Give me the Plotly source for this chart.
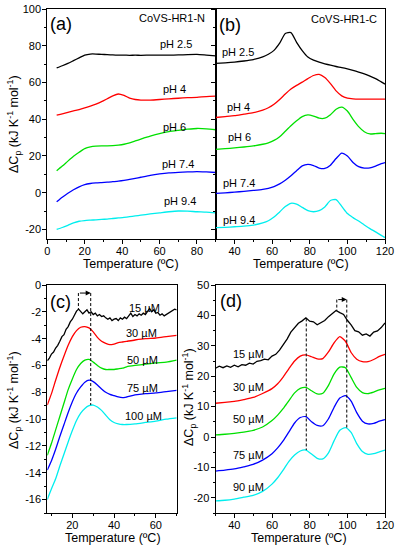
import plotly.graph_objects as go

# ---------------- data ----------------
# Panel (a): CoVS-HR1-N, pH series
T_a = [5, 8, 11, 14, 17, 20, 23, 26, 29, 32, 35, 38, 41, 44, 47, 50, 55, 60, 65, 70, 75, 80, 85, 90]
a_ph25 = [68.0, 69.2, 70.5, 72.0, 73.5, 75.0, 75.6, 75.6, 75.4, 75.3, 75.1, 75.0, 75.0, 74.9, 75.0, 74.9, 75.0, 75.0, 75.0, 75.1, 75.3, 75.4, 75.0, 74.6]
a_ph4 = [42.3, 43.0, 43.8, 44.6, 45.3, 46.2, 47.2, 48.3, 49.6, 51.2, 52.8, 53.8, 53.0, 51.6, 50.8, 50.5, 50.5, 50.8, 51.2, 51.5, 51.8, 52.0, 52.4, 52.6]
a_ph6 = [12.0, 14.5, 17.2, 19.8, 22.0, 24.0, 25.0, 25.4, 25.5, 25.5, 25.6, 25.9, 26.4, 27.2, 28.2, 29.2, 30.8, 32.2, 33.3, 34.0, 34.6, 35.0, 34.8, 34.3]
a_ph74 = [-5.0, -2.5, -0.3, 1.6, 3.2, 4.4, 5.0, 5.3, 5.5, 5.7, 6.0, 6.3, 6.7, 7.2, 7.8, 8.4, 9.4, 10.2, 10.8, 11.1, 11.3, 11.5, 11.3, 11.0]
a_ph94 = [-20.0, -19.0, -17.8, -16.5, -15.6, -15.2, -15.0, -14.8, -14.6, -14.4, -14.1, -13.8, -13.5, -13.1, -12.7, -12.3, -11.6, -11.0, -10.4, -10.0, -10.1, -10.4, -10.6, -11.0]

# Panel (b): CoVS-HR1-C, pH series
T_b = [30, 35, 40, 45, 50, 55, 58, 61, 64, 67, 70, 73, 76, 79, 82, 85, 88, 91, 94, 97, 100, 103, 106, 109, 112, 115, 118, 120]
b_ph25 = [70.5, 70.8, 71.2, 71.8, 72.6, 74.0, 75.5, 77.6, 81.5, 86.8, 87.3, 82.0, 77.5, 74.0, 72.3, 71.2, 70.3, 69.5, 68.8, 68.2, 67.5, 66.7, 65.8, 64.8, 63.6, 62.2, 60.4, 59.2]
b_ph4 = [41.0, 41.5, 42.0, 42.8, 43.6, 45.0, 46.3, 48.2, 50.8, 53.8, 56.5, 58.5, 60.3, 62.2, 63.9, 64.5, 62.8, 59.5, 55.5, 52.8, 51.6, 51.2, 51.0, 51.0, 51.0, 51.0, 51.0, 51.0]
b_ph6 = [23.6, 24.0, 24.4, 24.9, 25.5, 26.4, 27.2, 28.5, 30.5, 33.5, 36.5, 39.2, 41.5, 42.4, 41.8, 40.6, 40.6, 42.5, 45.5, 46.6, 44.5, 40.0, 36.0, 33.2, 32.0, 32.2, 32.4, 32.2]
b_ph74 = [-0.4, -0.1, 0.3, 0.7, 1.2, 1.8, 2.4, 3.3, 4.8, 6.8, 9.2, 12.0, 14.6, 15.4, 14.8, 13.4, 13.2, 15.0, 18.6, 21.6, 20.0, 16.5, 14.2, 13.4, 13.5, 14.5, 15.8, 16.4]
b_ph94 = [-19.1, -18.9, -18.6, -18.3, -17.7, -16.5, -15.3, -13.3, -10.5, -7.6, -5.8, -6.3, -8.0, -9.8, -10.4, -9.8, -7.8, -4.3, -3.8, -7.5, -11.4, -13.6, -15.5, -17.6, -19.6, -21.4, -23.3, -24.5]

# Panel (c): CoVS-HR1-N, concentration series
T_c_15 = list(range(8, 71))
c_15 = [-5.65, -5.45, -5.15, -5.0, -4.7, -4.5, -4.2, -3.85, -3.7, -3.3, -3.1, -2.75, -2.55, -2.2, -1.95, -1.8,
        -1.95, -2.15, -2.0, -1.85, -2.1, -2.0, -2.2, -2.1, -2.3, -2.2, -2.35, -2.3, -2.45, -2.55, -2.45, -2.65,
        -2.55, -2.5, -2.65, -2.45, -2.55, -2.4, -2.5, -2.3, -2.1, -2.35, -2.2, -2.3, -2.15, -2.25, -2.1, -2.2,
        -2.0, -1.75, -2.0, -1.85, -2.1, -2.05, -2.25, -2.15, -2.3, -2.2, -2.1, -2.05, -1.95, -1.8, -1.85]
T_c = [8, 10, 12, 14, 16, 18, 20, 22, 24, 26, 28, 30, 32, 34, 36, 38, 40, 42, 44, 46, 50, 55, 60, 65, 70]
c_30 = [-8.95, -8.1, -7.1, -6.15, -5.3, -4.5, -3.85, -3.4, -3.15, -3.1, -3.2, -3.5, -3.9, -4.2, -4.35, -4.45, -4.4, -4.3, -4.25, -4.2, -4.1, -4.0, -3.95, -3.85, -3.75]
c_50 = [-12.7, -11.8, -10.8, -9.8, -8.8, -7.8, -7.0, -6.3, -5.85, -5.6, -5.55, -5.75, -6.0, -6.2, -6.3, -6.3, -6.3, -6.25, -6.2, -6.1, -6.0, -5.9, -5.8, -5.75, -5.6]
c_75 = [-13.8, -13.1, -12.25, -11.3, -10.4, -9.5, -8.7, -8.05, -7.6, -7.25, -7.1, -7.2, -7.45, -7.75, -8.0, -8.15, -8.25, -8.35, -8.4, -8.35, -8.2, -8.1, -8.05, -7.95, -7.85]
c_100 = [-16.0, -15.2, -14.45, -13.5, -12.6, -11.7, -10.85, -10.1, -9.55, -9.2, -9.0, -8.95, -9.1, -9.35, -9.7, -10.05, -10.25, -10.35, -10.4, -10.4, -10.35, -10.25, -10.15, -10.0, -9.9]

# Panel (d): CoVS-HR1-C, concentration series
T_d_15 = list(range(30, 121, 2))
d_15 = [22.6, 23.3, 22.8, 23.4, 22.9, 23.6, 23.1, 23.8, 23.6, 24.3, 24.0, 24.9, 25.1, 25.6, 25.4, 26.6,
        27.2, 28.6, 30.4, 32.2, 34.5, 35.9, 37.4, 38.2, 39.2, 38.1, 37.9, 36.9, 37.6, 38.3, 39.6, 40.5,
        41.6, 40.9, 40.3, 38.4, 36.9, 35.0, 34.6, 33.5, 33.9, 33.2, 34.5, 34.9, 36.0, 37.5]
T_d = [30, 35, 40, 45, 50, 55, 60, 63, 66, 69, 72, 75, 78, 81, 84, 87, 90, 93, 96, 99, 102, 105, 108, 111, 114, 117, 120]
d_30 = [11.1, 11.4, 11.7, 12.3, 13.0, 14.3, 15.9, 17.5, 19.8, 22.5, 25.0, 26.6, 27.0, 26.4, 25.7, 25.8, 28.0, 31.0, 33.0, 31.5, 27.8, 25.6, 24.8, 24.8, 25.5, 26.5, 27.2]
d_50 = [0.7, 0.9, 1.2, 1.6, 2.2, 3.3, 5.4, 7.2, 9.4, 12.0, 14.5, 16.0, 16.3, 15.2, 14.2, 14.4, 17.0, 20.8, 23.0, 22.8, 19.6, 16.3, 14.6, 14.3, 14.8, 15.5, 16.0]
d_75 = [-11.2, -10.9, -10.5, -9.8, -9.0, -7.6, -5.5, -3.6, -1.2, 1.7, 4.6, 6.4, 6.7, 5.0, 3.8, 3.7, 6.0, 9.8, 12.8, 13.6, 11.8, 8.0, 5.2, 4.3, 4.5, 5.2, 5.7]
d_90 = [-21.0, -20.8, -20.4, -19.8, -19.2, -17.9, -15.5, -13.4, -10.8, -8.0, -5.9, -4.6, -4.3, -5.6, -7.0, -7.2, -5.2, -1.2, 2.2, 3.1, 1.5, -2.2, -4.8, -5.7, -5.5, -4.9, -4.3]

# labels
ph_labels = ["pH 2.5", "pH 4", "pH 6", "pH 7.4", "pH 9.4"]
c_labels = ["15 \u00b5M", "30 \u00b5M", "50 \u00b5M", "75 \u00b5M", "100 \u00b5M"]
d_labels = ["15 \u00b5M", "30 \u00b5M", "50 \u00b5M", "75 \u00b5M", "90 \u00b5M"]

# peak markers (dashed guides)
c_peak_low, c_peak_high, c_arrow_y = 22.9, 28.8, -0.6
c_peak_low_v, c_peak_high_v = -1.8, -8.95
d_peak1, d_peak2a, d_peak2b, d_arrow_y = 78.2, 94.4, 99.7, 45.2
d_peak1_top, d_peak1_bot, d_peak2a_bot, d_peak2b_bot = 39.0, -4.3, 41.5, 3.1

COLORS = ["#000000", "#ff0000", "#00e000", "#0000ff", "#00eeee"]
FONT = "Liberation Sans, Arial, sans-serif"

fig = go.Figure()

def add(x, y, color, xa, ya, spline=True):
    fig.add_trace(go.Scatter(x=x, y=y, mode="lines", xaxis=xa, yaxis=ya,
                             line=dict(color=color, width=1.3,
                                       shape="spline" if spline else "linear",
                                       smoothing=0.6 if spline else None),
                             showlegend=False, hoverinfo="skip"))

for s, c in zip([a_ph25, a_ph4, a_ph6, a_ph74, a_ph94], COLORS):
    add(T_a, s, c, "x", "y")
for s, c in zip([b_ph25, b_ph4, b_ph6, b_ph74, b_ph94], COLORS):
    add(T_b, s, c, "x2", "y2")
add(T_c_15, c_15, COLORS[0], "x3", "y3", spline=False)
for s, c in zip([c_30, c_50, c_75, c_100], COLORS[1:]):
    add(T_c, s, c, "x3", "y3")
add(T_d_15, d_15, COLORS[0], "x4", "y4", spline=False)
for s, c in zip([d_30, d_50, d_75, d_90], COLORS[1:]):
    add(T_d, s, c, "x4", "y4")

W, H = 396, 550

def dom_x(p0, p1):
    return [p0 / W, p1 / W]

def dom_y(p_top, p_bot):
    return [1 - p_bot / H, 1 - p_top / H]

def axis(dom, rng, dtick, mdtick, anchor, tickvals=None, labels=True, standoff=-2):
    d = dict(domain=dom, range=rng, anchor=anchor, showline=True, linecolor="black",
             linewidth=1, mirror=True, ticks="outside", ticklen=4, tickwidth=1,
             tickcolor="black", showgrid=False, zeroline=False, automargin=False,
             ticklabeloverflow="allow", ticklabelstandoff=standoff,
             tickfont=dict(family=FONT, size=11, color="black"),
             minor=dict(ticks="outside", ticklen=2, tickcolor="black", dtick=mdtick, tick0=0),
             showticklabels=labels)
    if tickvals is not None:
        d.update(tickmode="array", tickvals=tickvals,
                 ticktext=[("%g" % v) for v in tickvals])
    else:
        d.update(tick0=0, dtick=dtick)
    return d

ya_ticks = [-20, 0, 20, 40, 60, 80, 100]
yc_ticks = [-16, -14, -12, -10, -8, -6, -4, -2, 0]
yd_ticks = [-20, -10, 0, 10, 20, 30, 40, 50]

fig.update_layout(
    template="none",
    width=W, height=H, margin=dict(l=0, r=0, t=0, b=0, pad=0), autosize=False,
    paper_bgcolor="white", plot_bgcolor="white",
    xaxis=axis(dom_x(47.3, 215.7), [0, 90], 20, 10, "y"),
    yaxis=axis(dom_y(9.3, 238.5), [-25, 100], 20, 10, "x", tickvals=ya_ticks, standoff=-1),
    xaxis2=axis(dom_x(215.7, 385), [30, 120], 20, 10, "y2"),
    yaxis2=axis(dom_y(9.3, 238.5), [-25, 100], 20, 10, "x2", tickvals=ya_ticks, labels=False),
    xaxis3=axis(dom_x(47.3, 176.7), [8, 70], 20, 10, "y3"),
    yaxis3=axis(dom_y(285, 513), [-17, 0], 2, 1, "x3", tickvals=yc_ticks, standoff=-1),
    xaxis4=axis(dom_x(215.5, 385), [30, 120], 20, 10, "y4"),
    yaxis4=axis(dom_y(285, 513), [-25, 50], 10, 5, "x4", tickvals=yd_ticks, standoff=-1),
)

ann = []
def txt(x, y, text, xref, yref, size=11, xanchor="center", yanchor="middle", angle=0):
    ann.append(dict(x=x, y=y, text=text, xref=xref, yref=yref, showarrow=False,
                    xanchor=xanchor, yanchor=yanchor, textangle=angle,
                    font=dict(family=FONT, size=size, color="black")))

# panel letters and titles
txt(7.1, 92, "(a)", "x", "y", size=18)
txt(37.6, 91.4, "(b)", "x2", "y2", size=18)
txt(14.3, -1.24, "(c)", "x3", "y3", size=18)
txt(38.2, 44.8, "(d)", "x4", "y4", size=18)
txt(66.5, 95.1, "CoVS-HR1-N", "x", "y", size=11)
txt(98.1, 94.5, "CoVS-HR1-C", "x2", "y2", size=11)

# pH labels
for (tx, ty), lab in zip([(68.6, 80.9), (67.8, 56.3), (68.0, 36.0), (69.7, 15.4), (70.8, -4.6)], ph_labels):
    txt(tx, ty, lab, "x", "y", size=11)
for (tx, ty), lab in zip([(32.3, 76.9), (34.9, 46.9), (35.5, 30.5), (32.7, 5.4), (32.7, -14.7)], ph_labels):
    txt(tx, ty, lab, "x2", "y2", size=11, xanchor="left")
for (tx, ty), lab in zip([(54.8, -1.74), (53.2, -3.6), (53.7, -5.6), (53.7, -7.7), (53.9, -9.77)], c_labels):
    txt(tx, ty, lab, "x3", "y3", size=11)
for (tx, ty), lab in zip([(47.3, 27.2), (47.3, 16.3), (47.3, 5.8), (47.3, -5.9), (47.3, -16.6)], d_labels):
    txt(tx, ty, lab, "x4", "y4", size=11)

# axis titles (paper coords from pixel positions)
xt = "Temperature (\u00baC)"
yt = "\u0394C<sub>p</sub> (kJ K<sup>-1</sup> mol<sup>-1</sup>)"
for px, py in [(131, 264), (301, 264), (113, 537.5), (299, 537.5)]:
    txt(px / W, 1 - py / H, xt, "paper", "paper", size=12.5)
for px, py in [(14, 124), (14, 400), (189, 397)]:
    txt(px / W, 1 - py / H, yt, "paper", "paper", size=12.5, angle=-90)

# arrows
ann.append(dict(x=c_peak_high, y=c_arrow_y, ax=c_peak_low, ay=c_arrow_y, xref="x3", yref="y3",
                axref="x3", ayref="y3", showarrow=True, arrowhead=2, arrowsize=1, arrowwidth=1,
                arrowcolor="black", text=""))
ann.append(dict(x=d_peak2b, y=d_arrow_y, ax=d_peak2a, ay=d_arrow_y, xref="x4", yref="y4",
                axref="x4", ayref="y4", showarrow=True, arrowhead=2, arrowsize=1, arrowwidth=1,
                arrowcolor="black", text=""))
fig.update_layout(annotations=ann)

dash = dict(color="black", width=1, dash="3px,2px")
shapes = [
    dict(type="line", xref="x3", yref="y3", x0=c_peak_low, x1=c_peak_low, y0=c_arrow_y, y1=c_peak_low_v, line=dash),
    dict(type="line", xref="x3", yref="y3", x0=c_peak_high, x1=c_peak_high, y0=c_arrow_y, y1=c_peak_high_v, line=dash),
    dict(type="line", xref="x4", yref="y4", x0=d_peak1, x1=d_peak1, y0=d_peak1_top, y1=d_peak1_bot, line=dash),
    dict(type="line", xref="x4", yref="y4", x0=d_peak2a, x1=d_peak2a, y0=d_arrow_y, y1=d_peak2a_bot, line=dash),
    dict(type="line", xref="x4", yref="y4", x0=d_peak2b, x1=d_peak2b, y0=d_arrow_y, y1=d_peak2b_bot, line=dash),
]
fig.update_layout(shapes=shapes)

fig.write_html("out.html", config={"displayModeBar": False},
               post_script="document.body.style.margin='0px';")
